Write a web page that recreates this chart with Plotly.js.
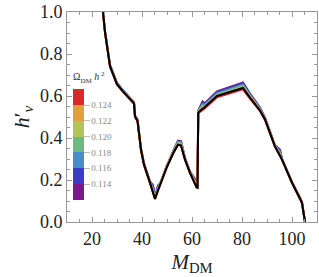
<!DOCTYPE html>
<html><head><meta charset="utf-8">
<script src="https://cdn.plot.ly/plotly-3.0.1.min.js"></script>
<style>html,body{margin:0;padding:0;background:#fff}#chart{width:319px;height:277px}</style>
</head><body><div id="chart"></div>
<script>
const mDM = [24.4, 25.2, 27.2, 30.0, 32.4, 35.2, 36.8, 37.2, 38.2, 39.6, 40.8, 43.2, 44.4, 45.2, 46.4, 47.2, 50.0, 52.8, 54.4, 55.6, 57.2, 59.2, 61.2, 61.8, 62.2, 62.5, 63.6, 64.2, 65.0, 70.0, 80.4, 83.2, 87.2, 89.2, 93.2, 95.2, 96.0, 100.0, 103.2, 104.0, 105.2];
const hBlack  = [1.0, 0.904, 0.742, 0.656, 0.622, 0.584, 0.565, 0.502, 0.482, 0.344, 0.273, 0.187, 0.140, 0.110, 0.150, 0.177, 0.263, 0.335, 0.368, 0.364, 0.297, 0.234, 0.180, 0.165, 0.163, 0.520, 0.533, 0.540, 0.546, 0.600, 0.638, 0.592, 0.531, 0.488, 0.359, 0.315, 0.297, 0.187, 0.115, 0.091, 0.0];
const h0124 = [1.0, 0.902, 0.740, 0.654, 0.620, 0.582, 0.563, 0.500, 0.480, 0.342, 0.271, 0.185, 0.140, 0.110, 0.150, 0.177, 0.263, 0.335, 0.368, 0.364, 0.297, 0.234, 0.180, 0.165, 0.163, 0.520, 0.528, 0.535, 0.540, 0.594, 0.632, 0.588, 0.528, 0.486, 0.358, 0.315, 0.297, 0.187, 0.115, 0.091, 0.0];
const h0122 = [1.0, 0.903, 0.741, 0.655, 0.621, 0.583, 0.564, 0.501, 0.481, 0.343, 0.272, 0.186, 0.142, 0.111, 0.152, 0.178, 0.264, 0.337, 0.371, 0.368, 0.298, 0.235, 0.183, 0.166, 0.163, 0.521, 0.533, 0.541, 0.545, 0.599, 0.638, 0.592, 0.531, 0.488, 0.359, 0.318, 0.297, 0.187, 0.115, 0.091, 0.0];
const h0120 = [1.0, 0.905, 0.743, 0.657, 0.623, 0.585, 0.566, 0.503, 0.483, 0.345, 0.274, 0.188, 0.146, 0.113, 0.155, 0.179, 0.266, 0.339, 0.375, 0.371, 0.300, 0.236, 0.187, 0.167, 0.164, 0.523, 0.538, 0.547, 0.549, 0.603, 0.643, 0.596, 0.534, 0.490, 0.360, 0.322, 0.298, 0.188, 0.116, 0.091, 0.0];
const h0118 = [1.0, 0.906, 0.745, 0.659, 0.625, 0.587, 0.568, 0.505, 0.485, 0.347, 0.276, 0.190, 0.152, 0.115, 0.160, 0.180, 0.267, 0.341, 0.378, 0.375, 0.301, 0.237, 0.192, 0.168, 0.164, 0.525, 0.544, 0.554, 0.553, 0.608, 0.649, 0.600, 0.537, 0.492, 0.362, 0.328, 0.299, 0.189, 0.116, 0.092, 0.0];
const h0116 = [1.0, 0.907, 0.746, 0.660, 0.626, 0.588, 0.569, 0.506, 0.486, 0.348, 0.277, 0.191, 0.160, 0.117, 0.165, 0.181, 0.268, 0.342, 0.381, 0.378, 0.302, 0.238, 0.196, 0.169, 0.164, 0.527, 0.550, 0.561, 0.557, 0.613, 0.654, 0.604, 0.540, 0.494, 0.363, 0.335, 0.299, 0.189, 0.116, 0.092, 0.0];
const h0114 = [1.0, 0.909, 0.747, 0.661, 0.627, 0.589, 0.570, 0.507, 0.487, 0.349, 0.278, 0.192, 0.168, 0.118, 0.170, 0.182, 0.269, 0.344, 0.385, 0.382, 0.304, 0.239, 0.201, 0.170, 0.165, 0.528, 0.555, 0.567, 0.561, 0.617, 0.660, 0.608, 0.542, 0.496, 0.364, 0.340, 0.300, 0.190, 0.117, 0.092, 0.0];
const h0112 = [1.0, 0.910, 0.748, 0.662, 0.628, 0.590, 0.571, 0.508, 0.488, 0.350, 0.279, 0.193, 0.175, 0.120, 0.175, 0.183, 0.270, 0.346, 0.388, 0.385, 0.305, 0.240, 0.205, 0.170, 0.165, 0.530, 0.560, 0.574, 0.565, 0.622, 0.665, 0.612, 0.545, 0.497, 0.365, 0.345, 0.300, 0.190, 0.117, 0.092, 0.0];

const bandColors = ['#dc2828', '#e0a040', '#b4c25a', '#6cba82', '#4a8cc8', '#3c3cc8', '#7a1a88'];
const omegaTicks = [0.114, 0.116, 0.118, 0.120, 0.122, 0.124];
const omegaTickText = ['0.114', '0.116', '0.118', '0.120', '0.122', '0.124'];
const omegaRange = [0.112, 0.126];

const series = [h0112, h0114, h0116, h0118, h0120, h0122, h0124];
const seriesColors = ['#7a1a88', '#3c3cc8', '#4a8cc8', '#6cba82', '#b4c25a', '#e0a040', '#dc2828'];

const traces = series.map((ys, i) => ({
  x: mDM, y: ys, type: 'scatter', mode: 'lines', hoverinfo: 'skip',
  line: {color: seriesColors[i], width: 2}, showlegend: false
}));
traces.push({x: mDM, y: hBlack, type: 'scatter', mode: 'lines', hoverinfo: 'skip',
  line: {color: '#000', width: 2}, showlegend: false});

const n = bandColors.length;
const cs = [];
for (let i = 0; i < n; i++) {
  cs.push([i / n, bandColors[n - 1 - i]]);
  cs.push([(i + 1) / n, bandColors[n - 1 - i]]);
}
traces.push({
  x: [-100], y: [-100], type: 'scatter', mode: 'markers', hoverinfo: 'skip', showlegend: false,
  marker: {
    color: [0.12], cmin: omegaRange[0], cmax: omegaRange[1], colorscale: cs, showscale: true, size: 1,
    colorbar: {
      x: 0.024, xanchor: 'left', xref: 'paper', y: 0.105, yanchor: 'bottom', yref: 'paper',
      thickness: 11, len: 130, lenmode: 'pixels', xpad: 0, ypad: 0, outlinewidth: 0,
      tickvals: omegaTicks, ticktext: omegaTickText, ticks: 'outside', ticklen: 6, tickcolor: '#bbb',
      tickfont: {family: 'Liberation Serif', size: 9, color: '#888'},
      title: {text: 'Ω<sub>DM</sub> <i>h</i><sup> 2</sup>', side: 'top',
        font: {family: 'Liberation Serif', size: 10, color: '#333'}}
    }
  }
});

const axisFont = {family: 'Liberation Serif', size: 18, color: '#222'};
const layout = {
  width: 319, height: 277,
  margin: {l: 67, r: 2, t: 12, b: 55},
  paper_bgcolor: '#fff', plot_bgcolor: '#fff',
  showlegend: false,
  xaxis: {
    range: [10, 110], dtick: 20, tick0: 0, ticks: 'inside', ticklen: 5, tickcolor: '#999',
    showline: true, linecolor: '#999', linewidth: 1, mirror: 'ticks',
    showgrid: false, zeroline: false, tickfont: axisFont,
    minor: {dtick: 5, tick0: 0, ticks: 'inside', ticklen: 3, tickcolor: '#999', showgrid: false},
    title: {text: '<i>M</i><sub>DM</sub>', font: {family: 'Liberation Serif', size: 21, color: '#222'}, standoff: 6}
  },
  yaxis: {
    range: [0, 1], dtick: 0.2, tick0: 0, tickformat: '.1f', ticks: 'inside', ticklen: 5, tickcolor: '#999',
    showline: true, linecolor: '#999', linewidth: 1, mirror: 'ticks',
    showgrid: false, zeroline: false, tickfont: axisFont,
    minor: {dtick: 0.05, tick0: 0, ticks: 'inside', ticklen: 3, tickcolor: '#999', showgrid: false},
    title: {text: '<i>h</i>′<sub><i>ν</i></sub>', font: {family: 'Liberation Serif', size: 22, color: '#222'}, standoff: 4}
  }
};
Plotly.newPlot('chart', traces, layout, {staticPlot: true, displayModeBar: false});
</script></body></html>
